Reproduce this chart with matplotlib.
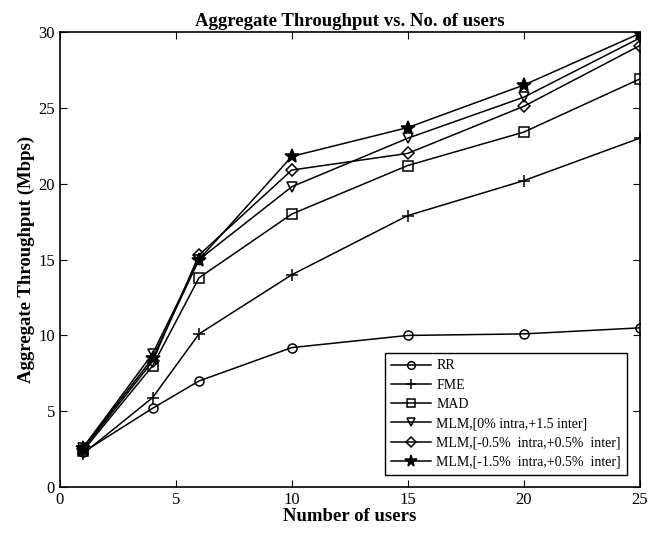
import matplotlib
matplotlib.use('Agg')
import matplotlib.pyplot as plt

plt.rcParams['font.family'] = ['Liberation Serif', 'DejaVu Serif']

users = [1, 4, 6, 10, 15, 20, 25]
rr = [2.3, 5.2, 7.0, 9.2, 10.0, 10.1, 10.5]
fme = [2.2, 5.9, 10.1, 14.0, 17.9, 20.2, 23.0]
mad = [2.4, 8.0, 13.8, 18.0, 21.2, 23.4, 26.9]
mlm_0 = [2.6, 8.8, 15.0, 19.8, 23.0, 25.7, 29.6]
mlm_05 = [2.5, 8.3, 15.3, 20.9, 22.0, 25.1, 29.1]
mlm_15 = [2.6, 8.5, 15.0, 21.8, 23.7, 26.5, 29.9]

labels = ['RR', 'FME', 'MAD', 'MLM,[0% intra,+1.5 inter]',
          'MLM,[-0.5%  intra,+0.5%  inter]', 'MLM,[-1.5%  intra,+0.5%  inter]']

fig = plt.figure(figsize=(6.65, 5.33), dpi=100)
ax = fig.add_axes([0.09, 0.086, 0.872, 0.854])

kw = dict(color='k', lw=1.1, mew=1.1)
ax.plot(users, rr, marker='o', mfc='none', ms=6.5, label=labels[0], **kw)
ax.plot(users, fme, marker='+', ms=8, label=labels[1], **kw)
ax.plot(users, mad, marker='s', mfc='none', ms=6.5, label=labels[2], **kw)
ax.plot(users, mlm_0, marker='v', mfc='none', ms=7.5, label=labels[3], **kw)
ax.plot(users, mlm_05, marker='D', mfc='none', ms=6, label=labels[4], **kw)
ax.plot(users, mlm_15, marker='*', mfc='k', ms=10, label=labels[5], **kw)

ax.set_xlim(0, 25)
ax.set_ylim(0, 30)
ax.set_xticks([0, 5, 10, 15, 20, 25])
ax.set_yticks([0, 5, 10, 15, 20, 25, 30])
ax.tick_params(direction='in', top=True, right=True, labelsize=12, length=5)
for s in ax.spines.values():
    s.set_linewidth(1.2)

ax.set_title('Aggregate Throughput vs. No. of users', fontsize=13.5, fontweight='bold', pad=4)
ax.set_xlabel('Number of users', fontsize=13.5, fontweight='bold', labelpad=0)
ax.set_ylabel('Aggregate Throughput (Mbps)', fontsize=13.5, fontweight='bold', labelpad=2)

leg = ax.legend(loc='lower right', bbox_to_anchor=(0.978, 0.027), borderaxespad=0,
                fontsize=10, fancybox=False, edgecolor='k', framealpha=1,
                handlelength=2.9, borderpad=0.45, labelspacing=0.45,
                handletextpad=0.35, markerscale=0.85)
leg.get_frame().set_linewidth(1.0)

fig.savefig('out.png', dpi=100)
